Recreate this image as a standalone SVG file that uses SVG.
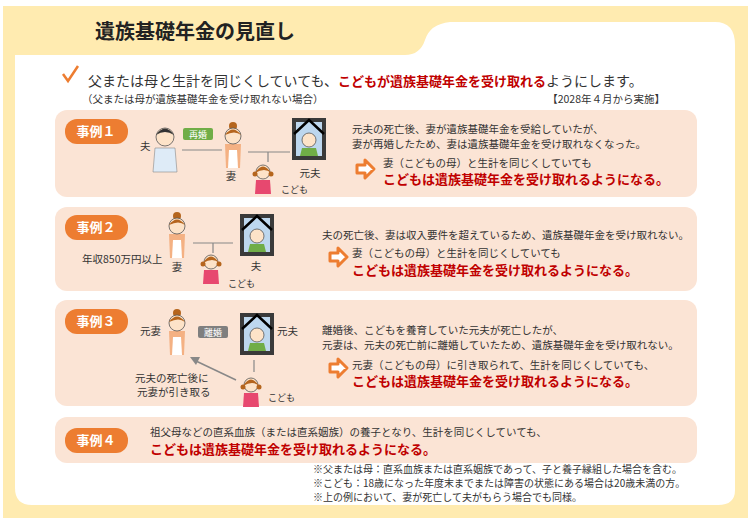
<svg xmlns="http://www.w3.org/2000/svg" width="750" height="524" viewBox="0 0 750 524">
<defs>
<style>
text{font-family:"Noto Sans CJK JP","Liberation Sans",sans-serif;fill:#333}
.t{font-size:10.5px}
.r{fill:#C00000;font-weight:bold;font-size:13px}
.box{fill:#FBE4D5}
.badge{fill:#ED7D31}
.bt{fill:#fff;font-weight:bold;font-size:13px}
.ln{stroke:#888;stroke-width:1.2;fill:none}
.skin{fill:#FDE3C8;stroke:#555;stroke-width:0.8}
.hair{fill:#B5651D}
.arr{fill:#fff;stroke:#ED7D31;stroke-width:3;stroke-linejoin:round}
</style>
<g id="woman">
<circle cx="0" cy="-10" r="4" class="hair"/>
<path d="M-8,8 L-7,32 L7,32 L8,8 Z" fill="#F4B183"/>
<path d="M-4,14 L-5,32 L5,32 L4,14 Z" fill="#fff"/>
<circle cx="0" cy="0" r="8" class="skin"/>
<path d="M-8,-1 Q0,-12 8,-1 Q2,-6 -8,-1Z" class="hair"/>
</g>
<g id="child">
<path d="M-7,8 L-8,22 L8,22 L7,8 Z" fill="#E7486F"/>
<circle cx="0" cy="0" r="7" class="skin"/>
<path d="M-8,1 Q0,-12 8,1 Q2,-5 -8,1Z" class="hair"/>
<circle cx="-8" cy="2" r="2.5" class="hair"/><circle cx="8" cy="2" r="2.5" class="hair"/>
</g>
<g id="frame">
<rect x="0" y="0" width="34" height="42" fill="#3a3a3a"/>
<rect x="4" y="4" width="26" height="34" fill="#BDD7EE"/>
<path d="M8,38 L10,30 L24,30 L26,38 Z" fill="#70AD47"/>
<circle cx="17" cy="22" r="7" class="skin"/>
<path d="M2,16 L17,2 L32,16" stroke="#000" stroke-width="2.5" fill="none"/>
</g>
<g id="arrowR"><path d="M0,5 L8,5 L8,0 L17,9 L8,18 L8,13 L0,13 Z" class="arr"/></g>
</defs>
<rect x="0" y="0" width="750" height="524" fill="#fff"/>
<rect x="3" y="6" width="745" height="512" fill="#FFEBB0"/>
<path d="M15,55 L405,55 Q420,55 425,40 Q430,24 450,22 L715,22 Q735,22 735,45 L735,490 Q735,505 718,505 L32,505 Q15,505 15,488 Z" fill="#fff"/>
<text x="95" y="39" font-size="20" font-weight="bold" style="fill:#222">遺族基礎年金の見直し</text>
<path d="M63,74 L68,81 L78,66" stroke="#ED7D31" stroke-width="2.5" fill="none"/>
<text x="88" y="86" font-size="14">父または母と生計を同じくしていても、<tspan class="r" font-size="16">こどもが遺族基礎年金を受け取れる</tspan>ようにします。</text>
<text x="82" y="103" class="t">（父または母が遺族基礎年金を受け取れない場合）</text>
<text x="665" y="103" class="t" text-anchor="end">【2028年４月から実施】</text>

<g id="case1">
<rect x="55" y="110" width="642" height="87" rx="12" class="box"/>
<rect x="65" y="119" width="63" height="25" rx="12" class="badge"/>
<text x="96" y="136" class="bt" text-anchor="middle">事例１</text>
<text x="140" y="150" class="t">夫</text>
<path d="M155,148 L153,172 L177,172 L175,148 Z" fill="#DEEBF7" stroke="#888" stroke-width="0.6"/>
<circle cx="165" cy="137" r="9" class="skin"/>
<path d="M156,135 Q165,122 174,135 Q165,129 156,135Z" fill="#333"/>
<rect x="183" y="128" width="30" height="12" rx="2" fill="#70AD47"/>
<text x="198" y="137.5" font-size="9" text-anchor="middle" style="fill:#fff">再婚</text>
<path d="M182,150 L222,150 M248,152 L290,152 M268,152 L268,162" class="ln"/>
<use href="#woman" x="233" y="136"/>
<text x="231" y="180" class="t" text-anchor="middle">妻</text>
<use href="#child" x="263" y="172"/>
<text x="281" y="193" font-size="9">こども</text>
<use href="#frame" x="292" y="118"/>
<text x="310" y="177" class="t" text-anchor="middle">元夫</text>
<text x="352" y="133" class="t">元夫の死亡後、妻が遺族基礎年金を受給していたが、</text>
<text x="352" y="148" class="t">妻が再婚したため、妻は遺族基礎年金を受け取れなくなった。</text>
<use href="#arrowR" x="357" y="160"/>
<text x="383" y="167" class="t">妻（こどもの母）と生計を同じくしていても</text>
<text x="383" y="184" class="r">こどもは遺族基礎年金を受け取れるようになる。</text>
</g>

<g id="case2">
<rect x="55" y="207" width="642" height="84" rx="12" class="box"/>
<rect x="65" y="215" width="63" height="25" rx="12" class="badge"/>
<text x="96" y="232" class="bt" text-anchor="middle">事例２</text>
<use href="#woman" x="177" y="226"/>
<text x="82" y="263" class="t">年収850万円以上</text>
<text x="177" y="271" class="t" text-anchor="middle">妻</text>
<path d="M193,243 L233,243 M213,243 L213,253" class="ln"/>
<use href="#child" x="211" y="262"/>
<text x="228" y="287" font-size="9">こども</text>
<use href="#frame" x="240" y="214"/>
<text x="256" y="270" class="t" text-anchor="middle">夫</text>
<text x="322" y="239" class="t">夫の死亡後、妻は収入要件を超えているため、遺族基礎年金を受け取れない。</text>
<use href="#arrowR" x="330" y="248"/>
<text x="352" y="257" class="t">妻（こどもの母）と生計を同じくしていても</text>
<text x="352" y="275" class="r">こどもは遺族基礎年金を受け取れるようになる。</text>
</g>

<g id="case3">
<rect x="55" y="300" width="642" height="106" rx="12" class="box"/>
<rect x="65" y="309" width="63" height="25" rx="12" class="badge"/>
<text x="96" y="326" class="bt" text-anchor="middle">事例３</text>
<text x="140" y="335" class="t">元妻</text>
<use href="#woman" x="177" y="323"/>
<rect x="198" y="326" width="30" height="12" rx="2" fill="#7F7F7F"/>
<text x="213" y="335.5" font-size="9" text-anchor="middle" style="fill:#fff">離婚</text>
<use href="#frame" x="240" y="313"/>
<text x="277" y="335" class="t">元夫</text>
<path d="M254,360 L254,372" class="ln"/>
<path d="M236,380 L196,361" stroke="#888" stroke-width="1.5"/>
<path d="M190,357 L200,357 L196,365 Z" fill="#888"/>
<use href="#child" x="251" y="385"/>
<text x="135" y="382" class="t">元夫の死亡後に</text>
<text x="137" y="396" class="t">元妻が引き取る</text>
<text x="268" y="401" font-size="9">こども</text>
<text x="322" y="334" class="t">離婚後、こどもを養育していた元夫が死亡したが、</text>
<text x="322" y="349" class="t">元妻は、元夫の死亡前に離婚していたため、遺族基礎年金を受け取れない。</text>
<use href="#arrowR" x="330" y="359"/>
<text x="352" y="369" class="t">元妻（こどもの母）に引き取られて、生計を同じくしていても、</text>
<text x="352" y="386" class="r">こどもは遺族基礎年金を受け取れるようになる。</text>
</g>

<g id="case4">
<rect x="55" y="417" width="642" height="46" rx="12" class="box"/>
<rect x="65" y="428" width="63" height="25" rx="12" class="badge"/>
<text x="96" y="445" class="bt" text-anchor="middle">事例４</text>
<text x="150" y="436" class="t">祖父母などの直系血族（または直系姻族）の養子となり、生計を同じくしていても、</text>
<text x="150" y="454" class="r">こどもは遺族基礎年金を受け取れるようになる。</text>
</g>

<g id="notes">
<text x="313" y="473" font-size="10">※父または母：直系血族または直系姻族であって、子と養子縁組した場合を含む。</text>
<text x="313" y="487" font-size="10">※こども：18歳になった年度末までまたは障害の状態にある場合は20歳未満の方。</text>
<text x="313" y="501" font-size="10">※上の例において、妻が死亡して夫がもらう場合でも同様。</text>
</g>
</svg>
